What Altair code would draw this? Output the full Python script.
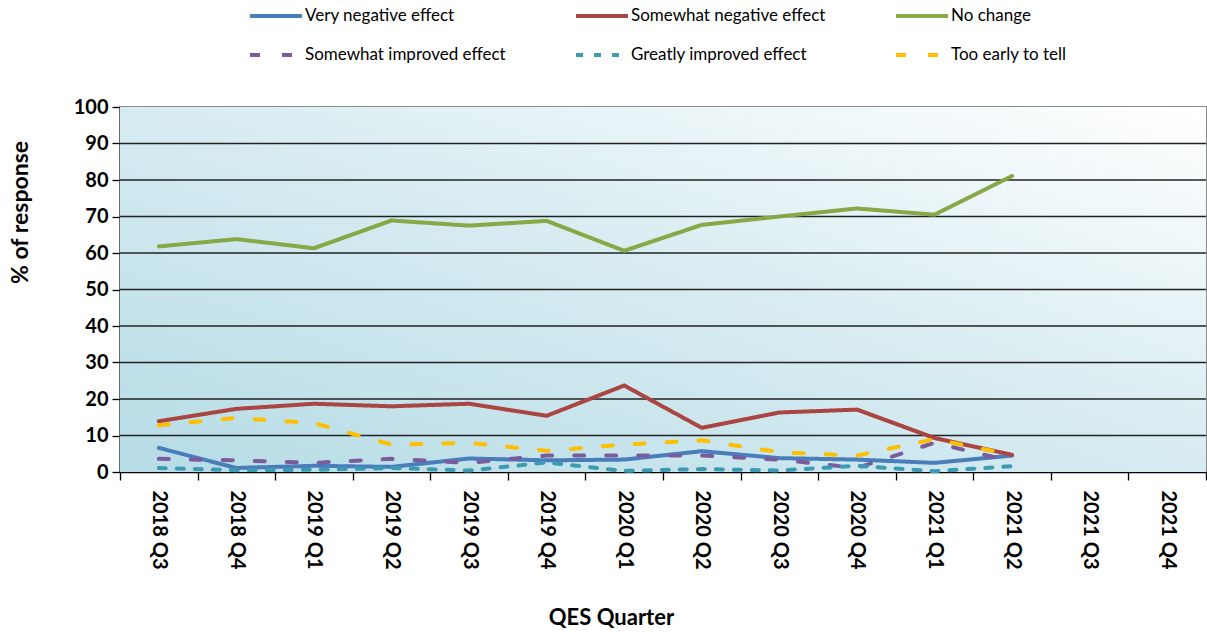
import altair as alt
import pandas as pd

# Survey quarters (last two not yet reported)
quarters = ["2018 Q3", "2018 Q4", "2019 Q1", "2019 Q2", "2019 Q3", "2019 Q4",
            "2020 Q1", "2020 Q2", "2020 Q3", "2020 Q4", "2021 Q1", "2021 Q2",
            "2021 Q3", "2021 Q4"]

series_names = ["Very negative effect", "Somewhat negative effect", "No change",
                "Somewhat improved effect", "Greatly improved effect", "Too early to tell"]

very_negative = [6.6, 1.1, 1.7, 1.4, 3.7, 3.2, 3.4, 5.7, 3.8, 3.4, 2.5, 4.5]
somewhat_negative = [13.9, 17.3, 18.7, 18.0, 18.7, 15.4, 23.7, 12.1, 16.3, 17.1, 9.3, 4.7]
no_change = [61.8, 63.8, 61.3, 68.9, 67.5, 68.8, 60.6, 67.7, 70.0, 72.2, 70.5, 81.1]
somewhat_improved = [3.6, 3.2, 2.5, 3.6, 2.5, 4.5, 4.5, 4.5, 3.4, 1.1, 8.0, 2.9]
greatly_improved = [1.1, 0.5, 0.6, 1.1, 0.4, 2.6, 0.3, 0.8, 0.4, 1.7, 0.2, 1.6]
too_early = [12.8, 14.8, 13.4, 7.5, 8.0, 5.8, 7.5, 8.7, 5.4, 4.5, 9.0, 4.7]

series_values = [very_negative, somewhat_negative, no_change,
                 somewhat_improved, greatly_improved, too_early]

# horizontal gridlines (the top edge is the frame)
grid_values = [10, 20, 30, 40, 50, 60, 70, 80, 90]
y_ticks = [0, 10, 20, 30, 40, 50, 60, 70, 80, 90, 100]

line_colors = ["#4a7ebb", "#ab4542", "#86a846", "#7a5c9c", "#3c9bb3", "#fcc000"]
line_dashes = [[1, 0], [1, 0], [1, 0], [10, 22], [7, 11], [10, 22]]

rows = []
for name, vals in zip(series_names, series_values):
    for q, v in zip(quarters, vals):
        rows.append({"quarter": q, "series": name, "value": v})
df = pd.DataFrame(rows)
grid_df = pd.DataFrame({"value": grid_values})

FONT = "Lato"

plot_fill = {
    "gradient": "linear", "x1": 0, "y1": 1, "x2": 1, "y2": 0,
    "stops": [
        {"offset": 0, "color": "#b6dce6"},
        {"offset": 0.5, "color": "#d6ebf1"},
        {"offset": 1, "color": "#ffffff"},
    ],
}

y_scale = alt.Scale(domain=[0, 100])
y_axis = alt.Axis(
    title="% of response", values=y_ticks, labelFont=FONT,
    labelFontWeight="bold", labelFontSize=20, labelColor="black",
    labelOverlap=False, labelPadding=4, tickSize=8, tickColor="black",
    tickWidth=1.3, domainColor="black", domainWidth=1.5, grid=False,
    titleFont=FONT, titleFontSize=23, titleFontWeight="bold",
    titleColor="black", titleX=-100, titleY=105, titleAlign="center",
    titleBaseline="middle",
)

background = alt.Chart(grid_df).transform_filter("datum.value == 10").mark_rect(
    color=plot_fill
).encode(
    x=alt.value(0), x2=alt.value("width"), y=alt.value(0), y2=alt.value("height")
)

gridlines = alt.Chart(grid_df).mark_rule(color="#222222", strokeWidth=1.3).encode(
    y=alt.Y("value:Q", scale=y_scale, axis=y_axis)
)

legend = alt.Legend(
    title=None, orient="none", legendX=128, legendY=-119, columns=3,
    direction="horizontal", columnPadding=62, rowPadding=3, symbolType="stroke",
    symbolSize=2704, symbolStrokeWidth=4, labelFont=FONT, labelFontSize=17,
    labelColor="black", labelOffset=1, labelLimit=400,
)

lines = alt.Chart(df).mark_line(
    strokeWidth=4, strokeCap="round", strokeJoin="round"
).encode(
    x=alt.X(
        "quarter:N", sort=quarters, bandPosition=0.5,
        scale=alt.Scale(type="band", domain=quarters, paddingInner=0, paddingOuter=0),
        axis=alt.Axis(
            title="QES Quarter", labelAngle=90, labelFont=FONT, labelFontWeight="bold",
            labelFontSize=20, labelColor="black", labelPadding=10, tickBand="extent",
            tickSize=8, tickColor="black", tickWidth=1.3, domainColor="black",
            domainWidth=1.5, grid=False, titleFont=FONT, titleFontSize=22,
            titleFontWeight="bold", titleColor="black", titleX=491, titleY=145,
            titleAlign="center", titleBaseline="middle",
        ),
    ),
    y=alt.Y("value:Q", scale=y_scale, axis=y_axis),
    color=alt.Color("series:N", sort=series_names,
                    scale=alt.Scale(domain=series_names, range=line_colors),
                    legend=legend),
    strokeDash=alt.StrokeDash("series:N", sort=series_names,
                              scale=alt.Scale(domain=series_names, range=line_dashes),
                              legend=legend),
)

chart = alt.layer(background, gridlines, lines).properties(
    width=1086, height=365,
    padding={"left": 120, "top": 107, "right": 1, "bottom": 160},
    autosize=alt.AutoSizeParams(type="none"),
).configure_view(stroke="#8c8c8c", strokeWidth=2)

chart.save("out.html", embed_options={"renderer": "svg", "actions": False})
